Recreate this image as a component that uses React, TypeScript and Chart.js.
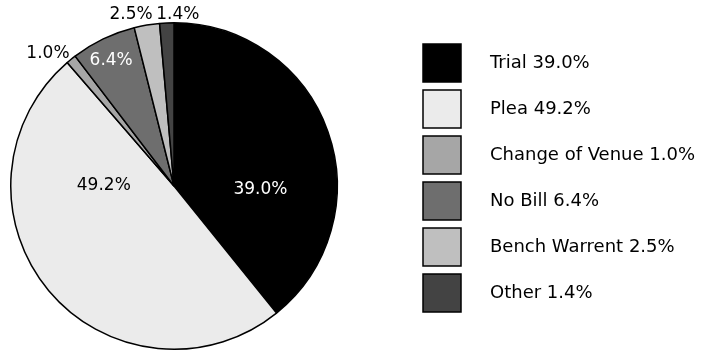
import React, { useEffect, useRef } from "react";
import { Chart, registerables } from "chart.js";

Chart.register(...registerables);

const categories = ["Trial", "Plea", "Change of Venue", "No Bill", "Bench Warrent", "Other"];
const values = [39.0, 49.2, 1.0, 6.4, 2.5, 1.4];
const colors = ["#000000", "#ebebeb", "#a6a6a6", "#6e6e6e", "#bfbfbf", "#434343"];
const labelColors = ["#ffffff", "#000000", "#000000", "#ffffff", "#000000", "#000000"];
// label placement: radius fraction and angle shift (deg) from slice mid-angle
const labelRadius = [0.53, 0.43, 1.12, 0.86, 1.08, 1.05];
const labelShift = [21.5, 40.4, -4.5, -0.9, -4.5, 3.8];

const FONT = "'DejaVu Sans', sans-serif";

const fmt = (v: number) => v.toFixed(1) + "%";

const sliceLabels = {
  id: "sliceLabels",
  afterDatasetsDraw(chart: any) {
    const ctx = chart.ctx;
    const meta = chart.getDatasetMeta(0);
    ctx.save();
    ctx.font = `17px ${FONT}`;
    ctx.textAlign = "center";
    ctx.textBaseline = "middle";
    meta.data.forEach((arc: any, i: number) => {
      const { x, y, startAngle, endAngle, outerRadius } = arc.getProps(
        ["x", "y", "startAngle", "endAngle", "outerRadius"],
        true
      );
      const mid = (startAngle + endAngle) / 2 + (labelShift[i] * Math.PI) / 180;
      const r = outerRadius * labelRadius[i];
      ctx.fillStyle = labelColors[i];
      ctx.fillText(fmt(values[i]), x + Math.cos(mid) * r, y + Math.sin(mid) * r);
    });
    ctx.restore();
  },
};

const sideLegend = {
  id: "sideLegend",
  afterDraw(chart: any) {
    const ctx = chart.ctx;
    const left = 423;
    const top = 44;
    const size = 38;
    const step = 46;
    ctx.save();
    ctx.font = `18px ${FONT}`;
    ctx.textBaseline = "middle";
    ctx.textAlign = "left";
    categories.forEach((c, i) => {
      const y = top + i * step;
      ctx.fillStyle = colors[i];
      ctx.fillRect(left, y, size, size);
      ctx.strokeStyle = "#000000";
      ctx.lineWidth = 1.5;
      ctx.strokeRect(left, y, size, size);
      ctx.fillStyle = "#000000";
      ctx.fillText(`${c} ${fmt(values[i])}`, 490, y + size / 2);
    });
    ctx.restore();
  },
};

export default function App() {
  const ref = useRef<HTMLCanvasElement>(null);
  useEffect(() => {
    document.body.style.margin = "0";
    const chart = new Chart(ref.current!, {
      type: "pie",
      data: {
        labels: categories,
        datasets: [
          {
            data: values,
            backgroundColor: colors,
            borderColor: "#000000",
            borderWidth: 1.5,
          },
        ],
      },
      options: {
        animation: false,
        responsive: false,
        maintainAspectRatio: false,
        layout: { padding: { left: 10, top: 22, right: 367, bottom: 1 } },
        plugins: {
          legend: { display: false },
          tooltip: { enabled: false },
        },
      },
      plugins: [sliceLabels, sideLegend],
    });
    return () => chart.destroy();
  }, []);
  return (
    <div style={{ width: 705, height: 351, background: "#ffffff" }}>
      <canvas ref={ref} width={705} height={351} />
    </div>
  );
}
